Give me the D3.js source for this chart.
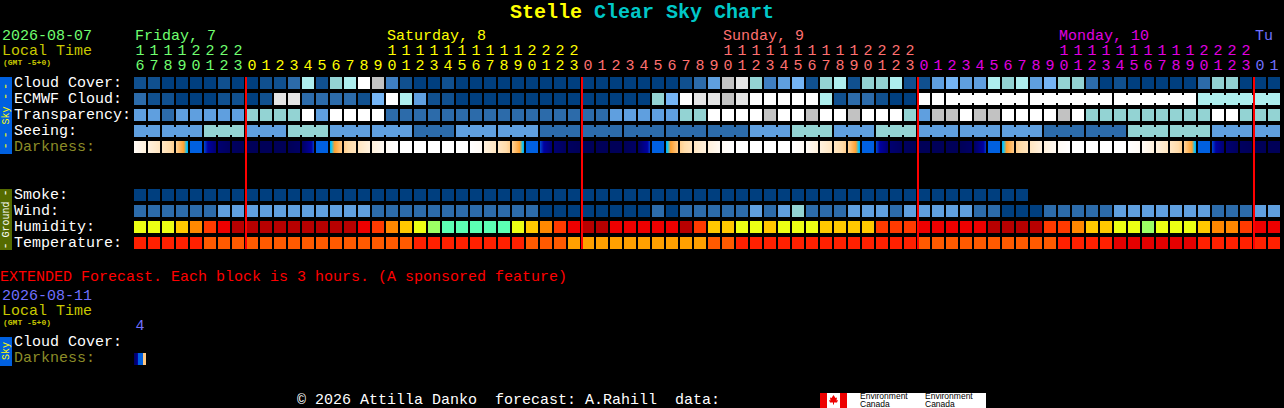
<!DOCTYPE html>
<html>
<head>
<meta charset="utf-8">
<title>Stelle Clear Sky Chart</title>
<script src="https://cdn.jsdelivr.net/npm/d3@7"></script>
<style>
  html, body { margin: 0; background: #000; overflow: hidden; }
  svg { display: block; }
  text { font-family: "Liberation Mono", monospace; font-size: 15px; white-space: pre; }
  rect { shape-rendering: crispEdges; }
</style>
</head>
<body>
<div id="chart"></div>
<script>
const WIDTH = 1284
const HEIGHT = 408

// hours of the forecast, one block each
const hours = [16,17,18,19,20,21,22,23,
  0,1,2,3,4,5,6,7,8,9,10,11,12,13,14,15,16,17,18,19,20,21,22,23,
  0,1,2,3,4,5,6,7,8,9,10,11,12,13,14,15,16,17,18,19,20,21,22,23,
  0,1,2,3,4,5,6,7,8,9,10,11,12,13,14,15,16,17,18,19,20,21,22,23,
  0,1]

const dayNames = ["Friday, 7", "Saturday, 8", "Sunday, 9", "Monday, 10", "Tu"]
const dayColors = ["#70ff70", "#ffff00", "#ff7070", "#e000e0", "#7070ff"]
const dayStart = [0, 8, 32, 56, 80]
const dayLabelAt = [0, 18, 42, 66, 80]
const midnights = [8, 32, 56, 80]

// cloud in tenths
const cloudCover = [1,1,0,0,0,0,1,0,0,1,1,2,7,1,6,7,10,8,3,1,0,
  0,1,0,0,0,0,0,0,0,0,0,0,0,0,0,0,0,0,1,2,4,8,9,6,3,4,5,1,6,7,1,
  6,6,7,1,1,4,5,4,4,7,6,7,4,5,6,6,2,0,1,0,0,0,0,0,2,6,6,0,0,0]
const ecmwfCloud = [2,1,1,0,0,0,1,1,0,1,9,9,2,2,2,2,1,5,10,7,4,
  1,1,0,0,0,0,0,0,0,0,0,0,0,0,0,0,6,5,10,9,9,8,9,10,10,10,10,10,7,1,2,
  2,1,0,0,10,10,10,10,10,10,10,10,10,10,10,10,10,10,10,10,10,10,10,10,7,7,7,7,7,7]
const transparency = [2,2,1,2,2,2,2,2,3,3,3,3,4,2,4,4,4,4,1,1,1,
  1,1,1,1,1,1,1,1,1,1,1,1,1,2,2,2,2,2,3,3,4,4,4,4,5,4,4,5,4,4,5,
  4,4,4,3,2,5,5,4,5,5,4,4,4,4,5,4,3,3,3,3,3,3,3,3,3,4,4,3,3,3]
const seeing = [2,2,2,2,2,3,3,3,2,2,2,3,3,3,2,2,2,2,2,2,1,1,1,
  2,2,2,2,2,2,1,1,1,1,1,1,1,1,1,1,1,1,1,1,1,2,2,2,3,3,3,2,2,2,
  3,3,3,2,2,2,2,2,2,2,2,2,1,1,1,1,1,1,3,3,3,3,3,3,2,2,2,2,2]
// where the sun sits on the darkness ramp, first and last pixel of each block
const darkFrom = [.97,.9,.82,.72,.5,.38,.1,.03,0,0,0,0,.05,.42,.54,.72,.82,.9,.97,1,1,
  1,1,1,1,.9,.82,.72,.5,.38,.1,.03,0,0,0,0,.05,.42,.54,.72,.82,.9,.97,1,1,1,1,1,.97,.9,.82,.72,
  .5,.38,.1,.03,0,0,0,0,.05,.42,.54,.72,.82,.9,.97,1,1,1,1,1,.97,.9,.82,.72,.5,.38,.1,.03,0,0]
const darkTo = [.9,.82,.72,.54,.42,.12,.03,0,0,0,0,.05,.36,.5,.7,.8,.9,.96,1,1,1,
  1,1,1,.97,.82,.72,.54,.42,.12,.03,0,0,0,0,.05,.36,.5,.7,.8,.9,.96,1,1,1,1,1,.97,.9,.82,.72,.54,
  .42,.12,.03,0,0,0,0,.05,.36,.5,.7,.8,.9,.96,1,1,1,1,1,.97,.9,.82,.72,.54,.42,.12,.03,0,0,0]

const smoke = [0,0,0,0,0,0,0,0,0,0,0,0,0,0,0,0,0,0,0,0,0,0,0,0,0,0,0,0,0,0,0,0,
  0,0,0,0,0,0,0,0,0,0,0,0,0,0,0,0,0,0,0,0,0,0,0,0,0,0,0,0,0,0,0,0]
const wind = [1,1,1,1,1,1,2,2,2,2,2,2,2,2,2,2,2,1,1,1,1,
  1,1,1,1,1,1,1,1,0,0,0,0,0,0,0,0,1,0,1,1,1,1,1,2,1,2,3,1,1,1,2,
  2,2,1,2,2,2,2,2,1,1,0,0,0,1,1,1,1,1,2,2,2,2,2,2,2,1,1,1,2,2]
// humidity in percent
const humidity = [72,72,72,77,82,87,92,97,97,97,97,97,97,97,97,97,92,87,82,77,72,
  67,62,62,62,62,62,72,77,82,87,92,97,97,92,92,92,92,92,97,87,77,77,72,72,77,72,72,72,77,77,77,
  77,87,87,87,92,92,92,92,92,97,97,97,97,87,87,82,77,77,72,72,67,72,72,72,77,82,82,87,92,92]
// temperature in degrees C
const temperature = [27,27,27,27,27,23,23,23,23,23,23,23,23,23,23,23,23,23,23,23,27,
  27,27,27,27,27,27,27,23,23,23,19,19,19,19,19,19,19,19,19,19,23,23,27,27,27,27,27,27,27,27,27,
  27,27,27,27,23,23,23,23,23,23,23,23,23,23,27,27,27,27,32,32,32,32,32,32,27,27,27,27,27,27]

// the one block of the extended forecast, pixel by pixel
const extDark = [.05,.1,.15,.3,.44,.46,.46,.46,.46,.7,.7,.7]

const cloudColors = ["#003f7f","#10508f","#2c6baa","#3f7fc2","#5f9fdf","#75b5f5","#93d3d3","#aeeeee","#c2c2c2","#e5e5e5","#ffffff"]
const skyColors = ["#003f7f","#2c6baa","#5f9fdf","#93d3d3","#ffffff","#c2c2c2"]
const humidityColors = ["#5cffb4","#9cff64","#ecff14","#ffc800","#ff8800","#ff3a00","#ee0000","#b80000"]
const tempColors = ["#ffa000","#ff5a00","#ff2000","#e40000"]

const cloudScale = d3.scaleOrdinal(d3.range(11), cloudColors)
const skyScale = d3.scaleOrdinal(d3.range(6), skyColors)
const humidityScale = d3.scaleThreshold([65,70,75,80,85,90,95], humidityColors)
const tempScale = d3.scaleThreshold([21,25,30], tempColors)
const darkScale = d3.scaleLinear()
  .domain([0, .3, .42, .5, .55, .6, .75, 1])
  .range(["#000058","#0000a0","#0060e0","#0060e0","#00c8ff","#ffa030","#ffdcaa","#ffffff"])

const svg = d3.select("#chart").append("svg")
  .attr("width", WIDTH)
  .attr("height", HEIGHT)
  .style("background", "#000")

const x = d3.scaleBand()
  .domain(d3.range(hours.length))
  .range([134, 134 + hours.length * 14 - 2])
  .paddingInner(1 / 7)

const skyRows = ["Cloud Cover:", "ECMWF Cloud:", "Transparency:", "Seeing:", "Darkness:"]
const groundRows = ["Smoke:", "Wind:", "Humidity:", "Temperature:"]

const ySky = d3.scaleBand().domain(skyRows).range([77, 153]).paddingInner(.25)
const yGround = d3.scaleBand().domain(groundRows).range([189, 249]).paddingInner(.25)

function text(str, px, py, color, size) {
  return svg.append("text")
    .attr("x", px)
    .attr("y", py)
    .attr("fill", color)
    .style("font-size", size ? size + "px" : null)
    .text(str)
}

// one row of blocks
function row(values, y, color) {
  svg.append("g").selectAll("rect")
    .data(values)
    .enter()
    .append("rect")
    .attr("x", (d, i) => x(i))
    .attr("y", y)
    .attr("width", x.bandwidth())
    .attr("height", 12)
    .attr("fill", d => color(d))
}

// small links between blocks of the same forecast step
function links(values, y, color, linked) {
  svg.append("g").selectAll("rect")
    .data(values.slice(0, -1).map((d, i) => [d, i]).filter(d => linked(d[1])))
    .enter()
    .append("rect")
    .attr("x", d => x(d[1]) + x.bandwidth())
    .attr("y", y + 2)
    .attr("width", x.step() - x.bandwidth())
    .attr("height", 8)
    .attr("fill", d => color(d[0]))
}

// title
const title = text("", 510, 18, "#ffff00", 20).style("font-weight", "bold")
title.append("tspan").attr("fill", "#ffff00").text("Stelle ")
title.append("tspan").attr("fill", "#00c8c8").text("Clear Sky Chart")

// header on the left
text("2026-08-07", 2, 40, "#70ff70")
text("Local Time", 2, 55, "#c8c800")
text("(GMT -5+0)", 3, 65, "#c8c800", 8).style("font-weight", "bold")

// day names and hour digits
const dayOf = i => d3.bisectRight(dayStart, i) - 1

dayNames.forEach((name, d) => {
  text(name, x(dayLabelAt[d]) + 1, 40, dayColors[d])
})

svg.append("g").selectAll("text")
  .data(hours)
  .enter()
  .append("text")
  .attr("x", (d, i) => x(i) + x.bandwidth() / 2)
  .attr("y", 70)
  .attr("text-anchor", "middle")
  .attr("fill", (d, i) => dayColors[dayOf(i)])
  .text(d => d % 10)

const tens = hours.map((d, i) => [d, i]).filter(d => d[0] >= 10)
svg.append("g").selectAll("text")
  .data(tens)
  .enter()
  .append("text")
  .attr("x", d => x(d[1]) + x.bandwidth() / 2)
  .attr("y", 55)
  .attr("text-anchor", "middle")
  .attr("fill", d => dayColors[dayOf(d[1])])
  .text(d => Math.floor(d[0] / 10))

// sky rows
row(cloudCover, ySky("Cloud Cover:"), cloudScale)
row(ecmwfCloud, ySky("ECMWF Cloud:"), cloudScale)
links(ecmwfCloud, ySky("ECMWF Cloud:"), cloudScale, i => i >= 58 && (i - 57) % 6 != 0)
row(transparency, ySky("Transparency:"), skyScale)
row(seeing, ySky("Seeing:"), skyScale)
links(seeing, ySky("Seeing:"), skyScale, i => i % 3 != 1)

// darkness is painted one pixel column at a time
const columns = d3.range(12)
svg.append("g").selectAll("g")
  .data(hours)
  .enter()
  .append("g")
  .each(function (d, i) {
    d3.select(this).selectAll("rect")
      .data(columns)
      .enter()
      .append("rect")
      .attr("x", k => x(i) + k)
      .attr("y", ySky("Darkness:"))
      .attr("width", 1)
      .attr("height", 12)
      .attr("fill", k => darkScale(darkFrom[i] + (darkTo[i] - darkFrom[i]) * k / 11))
  })

// ground rows
row(smoke, yGround("Smoke:"), d3.scaleOrdinal([0], ["#003f7f"]))
row(wind, yGround("Wind:"), skyScale)
row(humidity, yGround("Humidity:"), humidityScale)
row(temperature, yGround("Temperature:"), tempScale)

// row names
skyRows.forEach(name => {
  text(name, 14, ySky(name) + 10, name == "Darkness:" ? "#8c8c28" : "#ffffff")
})
groundRows.forEach(name => {
  text(name, 14, yGround(name) + 10, "#ffffff")
})

// midnight lines
svg.append("g").selectAll("rect")
  .data(midnights)
  .enter()
  .append("rect")
  .attr("x", d => x(d) - 1)
  .attr("y", 77)
  .attr("width", 2)
  .attr("height", 172)
  .attr("fill", "#ff0000")

// side bars, the words run upwards
function sideBar(y0, y1, color) {
  svg.append("rect")
    .attr("x", 0).attr("y", y0)
    .attr("width", 12).attr("height", y1 - y0)
    .attr("fill", color)
}
function sideText(str, cy, color, size) {
  svg.append("text")
    .attr("transform", `translate(9,${cy}) rotate(-90)`)
    .attr("text-anchor", "middle")
    .attr("fill", color)
    .style("font-size", size + "px")
    .text(str)
}
sideBar(77, 154, "#0060e0")
sideText("Sky", 115.5, "#ffff00", 10)
;[86.5, 96.5, 135, 146].forEach(cy => sideText("-", cy, "#ffff00", 12))
sideBar(189, 250, "#556b00")
sideText("Ground", 219.5, "#ffffff", 10)
;[193, 246].forEach(cy => sideText("-", cy, "#ffffff", 12))

// extended forecast
text("EXTENDED Forecast. Each block is 3 hours. (A sponsored feature)", 0, 281, "#ff0000")
text("2026-08-11", 2, 300, "#7070ff")
text("Local Time", 2, 315, "#c8c800")
text("(GMT -5+0)", 3, 325, "#c8c800", 8).style("font-weight", "bold")
text("4", x(0) + x.bandwidth() / 2, 330, "#7070ff").attr("text-anchor", "middle")
text("Cloud Cover:", 14, 346, "#ffffff")
text("Darkness:", 14, 362, "#8c8c28")
sideBar(337, 366, "#0060e0")
sideText("Sky", 351, "#ffff00", 10)

svg.append("g").selectAll("rect")
  .data(extDark)
  .enter()
  .append("rect")
  .attr("x", (d, k) => x(0) + k)
  .attr("y", 353)
  .attr("width", 1)
  .attr("height", 12)
  .attr("fill", d => darkScale(d))

// footer
text("\u00a9 2026 Attilla Danko  forecast: A.Rahill  data:", 297, 404, "#ffffff")

// logo
svg.append("rect").attr("x", 820).attr("y", 393).attr("width", 166).attr("height", 15).attr("fill", "#ffffff")
svg.append("rect").attr("x", 820).attr("y", 393).attr("width", 7).attr("height", 15).attr("fill", "#ee0000")
svg.append("rect").attr("x", 840).attr("y", 393).attr("width", 7).attr("height", 15).attr("fill", "#ee0000")
svg.append("path").attr("d", "M833.5 395l2 3 1.500-.5-.5 3 1.500-.5-1 2.500h-3v2h-1v-2h-3l-1-2.500 1.500.5-.5-3 1.500.5z").attr("fill", "#ee0000")
;[860, 925].forEach(px => {
  text("Environment", px, 399, "#000000", 8.5).style("font-family", "'Liberation Sans'")
  text("Canada", px, 407, "#000000", 8.5).style("font-family", "'Liberation Sans'")
})
</script>
</body>
</html>
